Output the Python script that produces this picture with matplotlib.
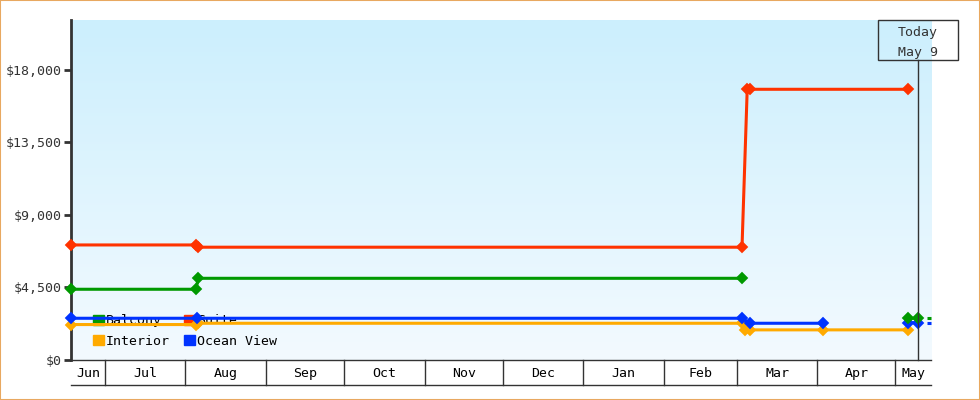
import numpy as np
import matplotlib
matplotlib.use("Agg")
import matplotlib.pyplot as plt
import matplotlib.dates as mdates
from matplotlib.patches import Rectangle, Patch
from matplotlib.ticker import FuncFormatter
from datetime import datetime

# cabin prices over time (nan = no fare listed)
balcony_dates = ["2022-06-18", "2022-08-05", "2022-08-06", "2023-03-03", "2023-03-04", "2023-05-06", "2023-05-09 18:00"]
balcony_vals = [4390, 4390, 5070, 5070, np.nan, 2590, 2590]

interior_dates = ["2022-06-18", "2022-08-05", "2022-08-06", "2023-03-03", "2023-03-04", "2023-03-06", "2023-04-03", "2023-05-06"]
interior_vals = [2200, 2200, 2280, 2280, 1870, 1870, 1870, 1870]

suite_dates = ["2022-06-18", "2022-08-05", "2022-08-06", "2023-03-03", "2023-03-05", "2023-03-06", "2023-05-06"]
suite_vals = [7140, 7140, 7000, 7000, 16800, 16800, 16800]

ocean_dates = ["2022-06-18", "2022-08-05 12:00", "2023-03-03", "2023-03-06", "2023-04-03", "2023-04-04", "2023-05-06", "2023-05-09 18:00"]
ocean_vals = [2590, 2590, 2590, 2280, 2280, np.nan, 2310, 2310]

# little projection dashes past today
tail_dates = ["2023-05-13 04:00", "2023-05-14 16:00"]

y_ticks = [0, 4500, 9000, 13500, 18000]
today = datetime(2023, 5, 9, 18)
x_start = datetime(2022, 6, 18)
x_end = datetime(2023, 5, 14, 16)

GREEN = "#009900"
ORANGE = "#ffaa00"
RED = "#ff3300"
BLUE = "#0033ff"
DARK = "#333333"
FONT = "DejaVu Sans Mono"

W, H = 980, 400
fig = plt.figure(figsize=(W / 100, H / 100), dpi=100)
L, R, T, B = 71, 931, 20, 360
ax = fig.add_axes([L / W, 1 - B / H, (R - L) / W, (B - T) / H])

# background gradient
top = np.array([204, 239, 253]) / 255
bot = np.array([243, 250, 255]) / 255
t = np.linspace(0, 1, 200)[:, None]
grad = (top * (1 - t) + bot * t)[:, None, :]
ax.imshow(grad, extent=[0, 1, 0, 1], transform=ax.transAxes, aspect="auto", zorder=0)

def todt(lst):
    return [datetime.fromisoformat(s) for s in lst]

series = [
    (interior_dates, interior_vals, ORANGE),
    (suite_dates, suite_vals, RED),
    (ocean_dates, ocean_vals, BLUE),
    (balcony_dates, balcony_vals, GREEN),
]
for dates, vals, col in series:
    ax.plot(todt(dates), vals, color=col, lw=2.2, marker="D", ms=5.2, mew=1.3,
            mec=col, zorder=3, clip_on=False)

for vals, col in [(ocean_vals, BLUE), (balcony_vals, GREEN)]:
    ax.plot(todt(tail_dates), [vals[-1]] * 2, color=col, lw=2.2, zorder=3, clip_on=False,
            solid_capstyle="butt")

ax.set_xlim(x_start, x_end)
ax.set_ylim(0, 21100)

# y axis
ax.set_yticks(y_ticks)
ax.yaxis.set_major_formatter(FuncFormatter(lambda v, p: "${:,.0f}".format(v)))
ax.tick_params(axis="y", length=5, width=2, color=DARK, labelcolor=DARK, labelsize=9.5, pad=2)
for lab in ax.get_yticklabels():
    lab.set_family(FONT)
ax.set_xticks([])
for s in ["top", "right"]:
    ax.spines[s].set_visible(False)
ax.spines["left"].set_linewidth(2)
ax.spines["left"].set_color(DARK)
ax.spines["bottom"].set_linewidth(1)
ax.spines["bottom"].set_color(DARK)

# month band below the axis
band = -25 / (B - T)
xt = ax.get_xaxis_transform()
ax.plot([0, 1], [band, band], transform=ax.transAxes, color=DARK, lw=1, clip_on=False)
months = []
d = datetime(x_start.year, x_start.month, 1)
while d < x_end:
    nxt = datetime(d.year + (d.month == 12), d.month % 12 + 1, 1)
    months.append((d, nxt))
    d = nxt
for m0, m1 in months:
    a, b = max(m0, x_start), min(m1, x_end)
    if m0 > x_start:
        ax.plot([m0, m0], [0, band], transform=xt, color=DARK, lw=1, clip_on=False)
    mid = mdates.num2date((mdates.date2num(a) + mdates.date2num(b)) / 2)
    ax.text(mid, band / 2 - 0.004, m0.strftime("%b"), transform=xt, ha="center", va="center",
            fontsize=9.5, family=FONT, color="black")

# today marker
box_top = 1.0
box_bot = (B - 60) / (B - T)
ax.plot([today, today], [0, box_bot], transform=xt, color=DARK, lw=1, clip_on=False, zorder=4)
tx = (mdates.date2num(today) - mdates.date2num(x_start)) / (mdates.date2num(x_end) - mdates.date2num(x_start))
bw = 80 / (R - L)
ax.add_patch(Rectangle((tx - bw / 2, box_bot), bw, box_top - box_bot, transform=ax.transAxes,
                       fill=False, ec=DARK, lw=1, clip_on=False, zorder=4))
ax.text(today, (box_top + box_bot) / 2 - 2.5 / (B - T), "Today\n" + today.strftime("%b ") + str(today.day),
        transform=xt, ha="center", va="center", fontsize=9.5, family=FONT, color=DARK,
        linespacing=1.65, zorder=4)

# legend under the lines
handles = [Patch(color=GREEN, label="Balcony"), Patch(color=ORANGE, label="Interior"),
           Patch(color=RED, label="Suite"), Patch(color=BLUE, label="Ocean View")]
leg = ax.legend(handles=handles, ncol=2, loc="lower left", bbox_to_anchor=(0.015, 0.009),
                frameon=False, prop={"family": FONT, "size": 9.5}, handlelength=0.85,
                handleheight=0.85, handletextpad=0.1, columnspacing=1.1, labelspacing=0.55,
                borderpad=0.2)
leg.set_zorder(1)

fig.patches.append(Rectangle((0, 0), 1, 1, transform=fig.transFigure, fill=False,
                             ec="#e8a860", lw=1.5))

fig.savefig("out.png", dpi=100)
